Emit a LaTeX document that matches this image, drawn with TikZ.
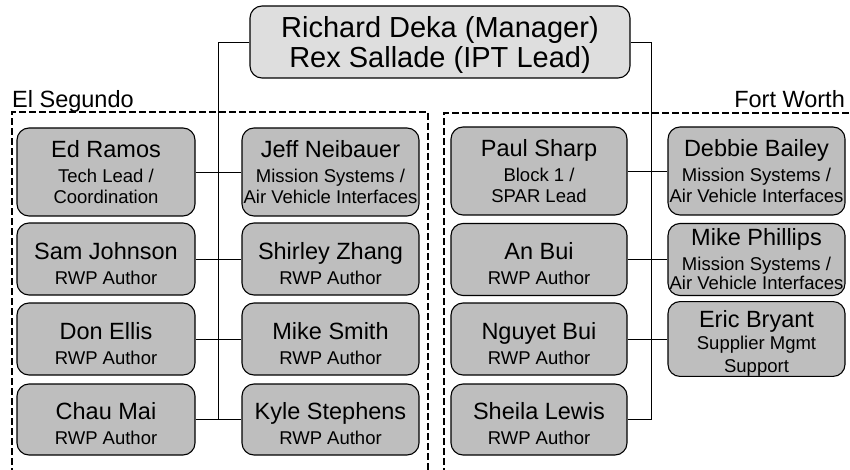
\documentclass[tikz,border=0pt]{standalone}
\usepackage{fontspec}
\setmainfont{Liberation Sans}
\usetikzlibrary{calc}
\definecolor{boxgray}{HTML}{BEBEBE}
\definecolor{topgray}{HTML}{DEDEDE}
\tikzset{
  person/.style={draw=black, line width=1.1pt, fill=boxgray, rounded corners=12pt,
    inner sep=0pt, align=center, font=\fontsize{18.5}{21}\selectfont},
  topbox/.style={draw=black, line width=1.1pt, fill=topgray, rounded corners=12pt,
    inner sep=0pt, align=center, font=\fontsize{29}{30}\selectfont},
  site/.style={draw=black, line width=1.1pt, dash pattern=on 7pt off 3pt},
  sitelabel/.style={font=\fontsize{23.5}{24}\selectfont, inner sep=0pt},
  conn/.style={draw=black, line width=0.9pt},
}
\newcommand{\pname}[1]{{\fontsize{23.5}{23}\selectfont\rule{0pt}{26pt}#1}}
\newcommand{\qname}[1]{{\fontsize{23.5}{23}\selectfont #1}}
\begin{document}
\begin{tikzpicture}[x=1pt,y=-1pt]
\useasboundingbox (0,0) rectangle (850,470);
% site frames
\draw[site] (12,475) -- (12,112) -- (428,112) -- (428,475);
\draw[site] (444,475) -- (444,113) -- (855,113);
\node[sitelabel, anchor=base west] (es) at (12,108) {El Segundo};
\node[sitelabel, anchor=base east] (fw) at (845,108) {Fort Worth};
% top
\node[topbox, minimum width=380pt, minimum height=72pt] (top) at (440,42)
  {\rule{0pt}{27pt}Richard Deka (Manager)\\Rex Sallade (IPT Lead)};
% El Segundo
\node[person, minimum width=178pt, minimum height=88pt] (ed) at (106,172) {\qname{Ed Ramos}\\[4pt]Tech Lead /\\Coordination};
\node[person, minimum width=177pt, minimum height=88pt] (jeff) at (330.5,172) {\qname{Jeff Neibauer}\\[4pt]Mission Systems /\\Air Vehicle Interfaces};
\node[person, minimum width=178pt, minimum height=72pt] (sam) at (106,259) {\pname{Sam Johnson}\\[4pt]RWP Author};
\node[person, minimum width=177pt, minimum height=72pt] (shirley) at (330.5,259) {\pname{Shirley Zhang}\\[4pt]RWP Author};
\node[person, minimum width=178pt, minimum height=72pt] (don) at (106,339) {\pname{Don Ellis}\\[4pt]RWP Author};
\node[person, minimum width=177pt, minimum height=72pt] (mike) at (330.5,339) {\pname{Mike Smith}\\[4pt]RWP Author};
\node[person, minimum width=178pt, minimum height=71pt] (chau) at (106,419.5) {\pname{Chau Mai}\\[4pt]RWP Author};
\node[person, minimum width=177pt, minimum height=71pt] (kyle) at (330.5,419.5) {\pname{Kyle Stephens}\\[4pt]RWP Author};
% Fort Worth
\node[person, minimum width=176pt, minimum height=88pt] (paul) at (539,171) {\qname{Paul Sharp}\\[4pt]Block 1 /\\SPAR Lead};
\node[person, minimum width=177pt, minimum height=88pt] (debbie) at (756.5,171) {\qname{Debbie Bailey}\\[4pt]Mission Systems /\\Air Vehicle Interfaces};
\node[person, minimum width=176pt, minimum height=72pt] (anbui) at (539,259.5) {\pname{An Bui}\\[4pt]RWP Author};
\node[person, minimum width=177pt, minimum height=72pt] (phillips) at (756.5,259.5) {\qname{Mike Phillips}\\[4pt]Mission Systems /\\[-2pt]Air Vehicle Interfaces};
\node[person, minimum width=176pt, minimum height=72pt] (nguyet) at (539,339) {\pname{Nguyet Bui}\\[4pt]RWP Author};
\node[person, minimum width=177pt, minimum height=72pt] (eric) at (756.5,339) {\pname{Eric Bryant}\\[1pt]Supplier Mgmt\\[2pt]Support};
\node[person, minimum width=176pt, minimum height=71pt] (sheila) at (539,419.5) {\pname{Sheila Lewis}\\[4pt]RWP Author};
% connectors
\coordinate (lbus) at ($(chau.east)!0.5!(kyle.west)$);
\coordinate (rbus) at ($(sheila.east)+(24,0)$);
\draw[conn] (top.west) -| (lbus);
\draw[conn] (top.east) -| (rbus) -- (sheila.east);
\draw[conn] (ed.east) -- (jeff.west);
\draw[conn] (sam.east) -- (shirley.west);
\draw[conn] (don.east) -- (mike.west);
\draw[conn] (chau.east) -- (kyle.west);
\draw[conn] (paul.east) -- (debbie.west);
\draw[conn] (anbui.east) -- (phillips.west);
\draw[conn] (nguyet.east) -- (eric.west);
\end{tikzpicture}
\end{document}
